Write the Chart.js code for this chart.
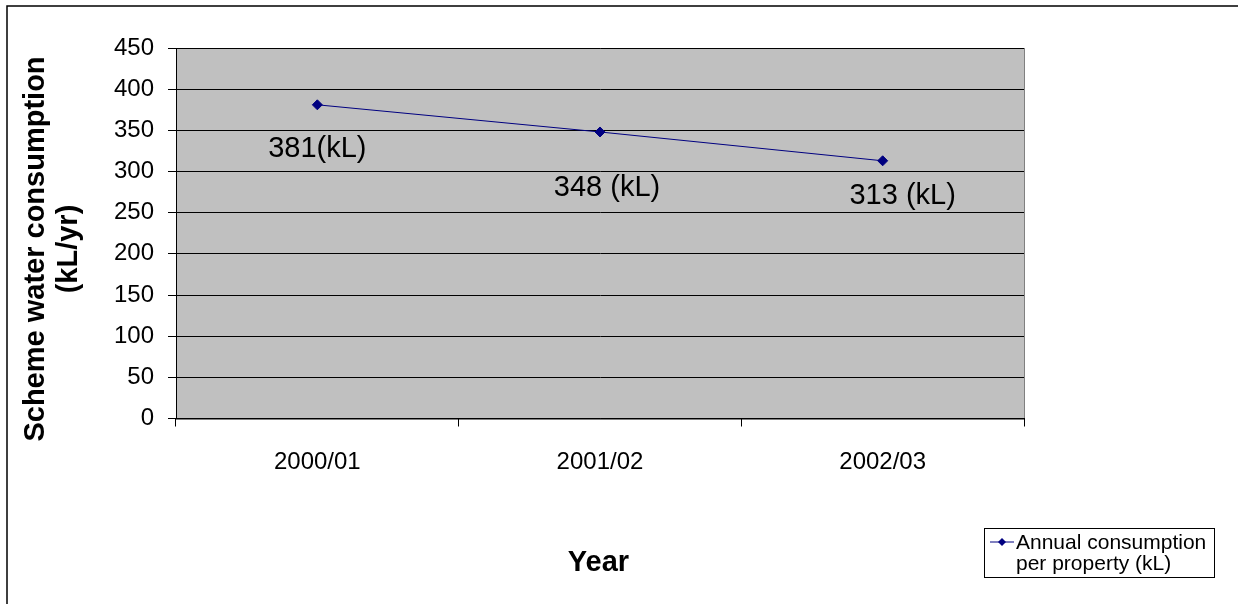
<!DOCTYPE html>
<html>
<head>
<meta charset="utf-8">
<script src="https://cdn.jsdelivr.net/npm/chart.js@4/dist/chart.umd.min.js"></script>
<style>
  html, body { margin: 0; padding: 0; background: #fff; }
  #wrap { position: relative; width: 1238px; height: 604px; overflow: hidden; }
  canvas { display: block; }
</style>
</head>
<body>
<div id="wrap"><canvas id="chart" width="1238" height="604"></canvas></div>
<script>
// Annual scheme water consumption per property
const years = ['2000/01', '2001/02', '2002/03'];
const consumption = [381, 348, 313];
const labelUnits = ['(kL)', ' (kL)', ' (kL)'];
const yTicks = [0, 50, 100, 150, 200, 250, 300, 350, 400, 450];
const seriesName = 'Annual consumption per property (kL)';
const yTitleLines = ['Scheme water consumption', '(kL/yr)'];
const xTitle = 'Year';

const FONT = '"Liberation Sans", Arial, sans-serif';
const NAVY = '#000080';

// label placement relative to each point (dx, dy in px)
const labelOffsets = [[0, 44], [7, 56], [20, 35]];

const chartDecor = {
  id: 'chartDecor',
  beforeDraw(chart) {
    const { ctx, chartArea: a } = chart;
    ctx.save();
    ctx.fillStyle = '#C0C0C0';
    ctx.fillRect(a.left, a.top, a.right - a.left, a.bottom - a.top);
    ctx.strokeStyle = '#808080';
    ctx.lineWidth = 1;
    ctx.strokeRect(Math.round(a.left) + 0.5, Math.round(a.top) + 0.5,
      Math.round(a.right - a.left), Math.round(a.bottom - a.top));
    ctx.restore();
  },
  afterDatasetsDraw(chart) {
    const { ctx } = chart;
    const meta = chart.getDatasetMeta(0);
    ctx.save();
    ctx.fillStyle = '#000';
    ctx.font = '29px ' + FONT;
    ctx.textAlign = 'center';
    ctx.textBaseline = 'middle';
    meta.data.forEach((pt, i) => {
      const [dx, dy] = labelOffsets[i];
      ctx.fillText(consumption[i] + labelUnits[i], pt.x + dx, pt.y + dy);
    });
    ctx.restore();
  },
  afterDraw(chart) {
    const { ctx } = chart;
    ctx.save();
    // outer frame
    ctx.strokeStyle = '#000';
    ctx.lineWidth = 1.5;
    ctx.beginPath();
    ctx.moveTo(7, 604);
    ctx.lineTo(7, 6);
    ctx.lineTo(1238, 6);
    ctx.stroke();

    // axis titles
    ctx.fillStyle = '#000';
    ctx.font = 'bold 29px ' + FONT;
    ctx.textAlign = 'center';
    ctx.textBaseline = 'alphabetic';
    ctx.fillText(xTitle, 598.5, 571);

    ctx.save();
    ctx.translate(0, 249);
    ctx.rotate(-Math.PI / 2);
    ctx.textBaseline = 'middle';
    ctx.fillText(yTitleLines[0], 0, 36);
    ctx.fillText(yTitleLines[1], 0, 69);
    ctx.restore();

    // legend
    const ds = chart.data.datasets[0];
    ctx.font = '21px ' + FONT;
    const words = ds.label.split(' ');
    const lines = [];
    let cur = '';
    words.forEach(w => {
      const t = cur ? cur + ' ' + w : w;
      if (ctx.measureText(t).width > 195 && cur) { lines.push(cur); cur = w; }
      else cur = t;
    });
    if (cur) lines.push(cur);

    const bx = 984, by = 528, bw = 230, bh = 49;
    ctx.fillStyle = '#fff';
    ctx.fillRect(bx, by, bw, bh);
    ctx.strokeStyle = '#000';
    ctx.lineWidth = 1;
    ctx.strokeRect(bx + 0.5, by + 0.5, bw, bh);

    ctx.fillStyle = '#000';
    ctx.textAlign = 'left';
    ctx.textBaseline = 'alphabetic';
    lines.forEach((ln, i) => ctx.fillText(ln, 1016, 549 + i * 21));

    const my = 542;
    ctx.strokeStyle = ds.borderColor;
    ctx.lineWidth = 1;
    ctx.beginPath();
    ctx.moveTo(990, my);
    ctx.lineTo(1014, my);
    ctx.stroke();
    ctx.fillStyle = ds.pointBackgroundColor;
    ctx.beginPath();
    ctx.moveTo(1002, my - 4);
    ctx.lineTo(1006, my);
    ctx.lineTo(1002, my + 4);
    ctx.lineTo(998, my);
    ctx.closePath();
    ctx.fill();
    ctx.restore();
  }
};

new Chart(document.getElementById('chart'), {
  type: 'line',
  data: {
    labels: years,
    datasets: [{
      label: seriesName,
      data: consumption,
      borderColor: NAVY,
      borderWidth: 1,
      backgroundColor: NAVY,
      pointBackgroundColor: NAVY,
      pointBorderColor: NAVY,
      pointStyle: 'rectRot',
      pointRadius: 5,
      pointBorderWidth: 1,
      tension: 0,
      fill: false
    }]
  },
  options: {
    responsive: false,
    animation: false,
    devicePixelRatio: 1,
    layout: { padding: { left: 0, top: 48, right: 214, bottom: 0 } },
    plugins: {
      legend: { display: false },
      tooltip: { enabled: false },
      title: { display: false }
    },
    scales: {
      x: {
        type: 'category',
        offset: true,
        afterFit(s) { s.height = 185.5; },
        grid: {
          offset: true,
          drawOnChartArea: false,
          drawTicks: true,
          tickLength: 8,
          color: '#000',
          lineWidth: 1
        },
        border: { display: true, color: '#000', width: 1 },
        ticks: {
          color: '#000',
          font: { family: FONT, size: 24 },
          padding: 21,
          maxRotation: 0,
          autoSkip: false
        }
      },
      y: {
        min: yTicks[0],
        max: yTicks[yTicks.length - 1],
        afterFit(s) { s.width = 176; },
        afterBuildTicks(s) { s.ticks = yTicks.map(v => ({ value: v })); },
        grid: {
          color: '#000',
          lineWidth: 1,
          drawTicks: true,
          tickLength: 8,
          tickColor: '#000'
        },
        border: { display: true, color: '#000', width: 1 },
        ticks: {
          color: '#000',
          font: { family: FONT, size: 24 },
          padding: 14
        }
      }
    }
  },
  plugins: [chartDecor]
});
</script>
</body>
</html>
